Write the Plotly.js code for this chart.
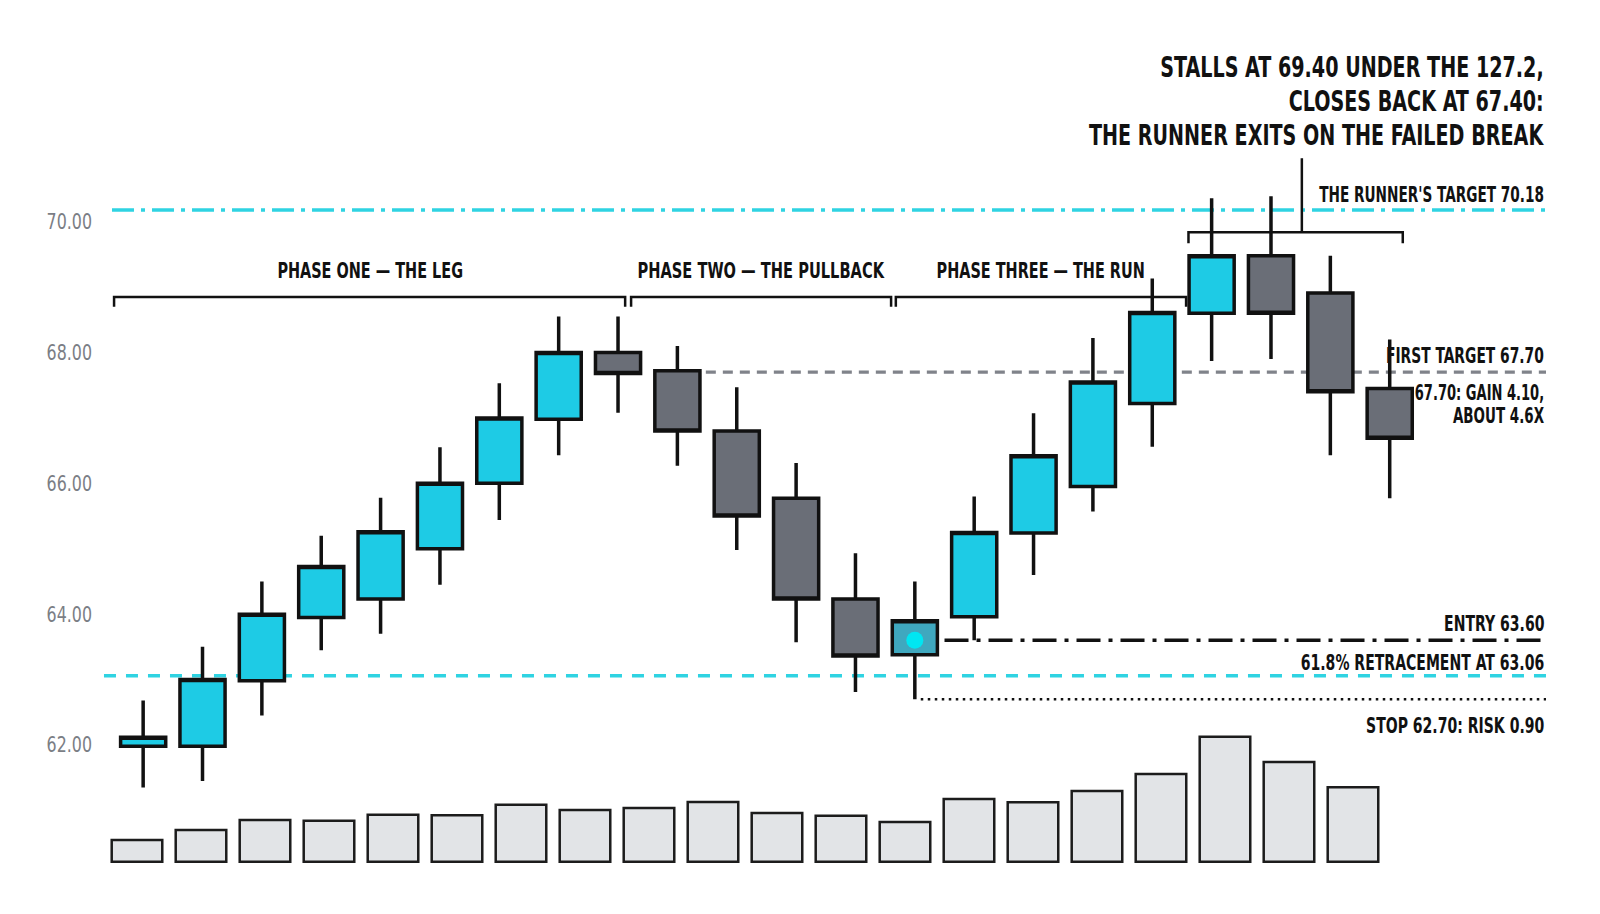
<!DOCTYPE html>
<html>
<head>
<meta charset="utf-8">
<script src="https://cdn.plot.ly/plotly-3.0.1.min.js"></script>
<style>
  html, body { margin: 0; padding: 0; background: #fff; }
  #chart { width: 1600px; height: 914px; }
</style>
</head>
<body>
<div id="chart"></div>
<script>
// Price candles, one per session (index 0..21)
const candleOpen  = [61.98, 61.98, 62.98, 63.95, 64.23, 65.00, 66.00, 66.98, 68.00, 67.72, 66.80,
                     65.77, 64.23, 63.38, 63.96, 65.24, 65.95, 67.22, 68.60, 69.48, 68.91, 67.45];
const candleHigh  = [62.68, 63.50, 64.50, 65.20, 65.78, 66.55, 67.53, 68.55, 68.55, 68.10, 67.47,
                     66.31, 64.93, 64.50, 65.80, 67.07, 68.22, 69.13, 70.36, 70.39, 69.48, 68.20];
const candleLow   = [61.35, 61.45, 62.45, 63.45, 63.70, 64.45, 65.44, 66.43, 67.08, 66.27, 64.98,
                     63.57, 62.81, 62.70, 63.60, 64.60, 65.57, 66.56, 67.87, 67.90, 66.43, 65.77];
const candleClose = [62.12, 63.00, 64.00, 64.73, 65.26, 66.00, 67.00, 68.00, 67.68, 66.80, 65.50,
                     64.23, 63.36, 63.90, 65.25, 66.42, 67.55, 68.61, 69.48, 68.60, 67.40, 66.69];

// Volume strip (thousands), its own 20 slots
const volume = [108, 158, 208, 205, 235, 232, 285, 258, 268, 298,
                243, 230, 198, 313, 297, 353, 438, 625, 498, 372];

const priceTicks = [62, 64, 66, 68, 70];

// Trade levels
const RUNNER_TARGET = 70.18;
const FIRST_TARGET  = 67.70;
const ENTRY         = 63.60;
const RETRACE_618   = 63.06;
const STOP          = 62.70;
const ENTRY_BAR     = 13;

const phases = [
  { label: 'PHASE ONE — THE LEG',      from: -0.49, to: 8.12 },
  { label: 'PHASE TWO — THE PULLBACK', from: 8.22,  to: 12.60 },
  { label: 'PHASE THREE — THE RUN',    from: 12.68, to: 17.57 }
];

// only DejaVu has a condensed cut here; it gets squeezed a bit more after drawing
const FONT = '"DejaVu Sans Condensed", "DejaVu Sans", sans-serif';
const INK = '#111111';
const CYAN = '#1ecbe5';
const CYAN_LINE = '#2fd3e2';
const SLATE = '#6a6e77';
const X_RANGE = [-0.727, 23.633];

const idx = candleOpen.map((_, i) => i);
const pick = (arr, keep) => arr.filter((_, i) => keep(i));
const notEntry = i => i !== ENTRY_BAR;
const isEntry = i => i === ENTRY_BAR;

function candles(keep, upFill) {
  return {
    type: 'candlestick',
    x: pick(idx, keep),
    open: pick(candleOpen, keep), high: pick(candleHigh, keep),
    low: pick(candleLow, keep), close: pick(candleClose, keep),
    increasing: { line: { color: INK, width: 3.5 }, fillcolor: upFill },
    decreasing: { line: { color: INK, width: 3.5 }, fillcolor: SLATE },
    whiskerwidth: 0, hoverinfo: 'skip', showlegend: false
  };
}

const data = [
  {
    type: 'bar', xaxis: 'x2', yaxis: 'y2',
    x: volume.map((_, i) => i), y: volume,
    marker: { color: '#e2e4e7', line: { color: '#1c1c1c', width: 2.5 } },
    hoverinfo: 'skip'
  },
  candles(notEntry, CYAN),
  candles(isEntry, '#3fa8bf'),
  {
    type: 'scatter', mode: 'markers', x: [ENTRY_BAR], y: [ENTRY],
    marker: { size: 17, color: '#00e6f2' }, hoverinfo: 'skip'
  }
];

function level(y, x0, color, width, dash) {
  return { type: 'line', xref: 'x', yref: 'y', x0: x0, x1: X_RANGE[1], y0: y, y1: y,
           line: { color: color, width: width, dash: dash }, layer: 'below' };
}

function bracket(a, b, top, foot) {
  return { type: 'path', xref: 'x', yref: 'y',
           path: `M ${a},${foot} V ${top} H ${b} V ${foot}`,
           line: { color: INK, width: 2.5 } };
}

const shapes = [
  level(RUNNER_TARGET, -0.525, CYAN_LINE, 3.5, '22px,7px,4px,7px'),
  level(RETRACE_618, -0.66, CYAN_LINE, 3.5, '12px,10px'),
  level(FIRST_TARGET, 8.62, '#80838a', 3.2, '10px,7px'),
  level(ENTRY, 13.5, INK, 3.5, '24px,8px,4px,8px'),
  level(STOP, 13.1, INK, 2.5, '2.5px,4.5px'),
  ...phases.map(p => bracket(p.from, p.to, 68.85, 68.70)),
  bracket(17.61, 21.22, 69.84, 69.67),
  { type: 'line', xref: 'x', yref: 'y', x0: 19.52, x1: 19.52, y0: 69.84, y1: 70.97,
    line: { color: INK, width: 2.5 } }
];

const label = size => ({ family: FONT, size: size, color: INK, weight: 700 });

function sideNote(text, y, shift) {
  return { xref: 'paper', yref: 'y', x: 1, y: y, yshift: shift, text: text,
           xanchor: 'right', yanchor: 'middle', align: 'right', showarrow: false,
           font: label(22) };
}

function headline(text, py) {
  return { xref: 'paper', yref: 'paper', x: 1, y: 1 - py / 914, text: text,
           xanchor: 'right', yanchor: 'middle', align: 'right', showarrow: false,
           font: label(28) };
}

const annotations = [
  headline('STALLS AT 69.40 UNDER THE 127.2,', 68),
  headline('CLOSES BACK AT 67.40:', 101.7),
  headline('THE RUNNER EXITS ON THE FAILED BREAK', 135),
  ...phases.map(p => ({ xref: 'x', yref: 'y', x: (p.from + p.to) / 2, y: 69.25, text: p.label,
                        showarrow: false, xanchor: 'center', yanchor: 'middle', font: label(22) })),
  sideNote("THE RUNNER'S TARGET 70.18", RUNNER_TARGET, 15),
  sideNote('FIRST TARGET 67.70', FIRST_TARGET, 17),
  sideNote('67.70: GAIN 4.10,', FIRST_TARGET, -20),
  sideNote('ABOUT 4.6X', FIRST_TARGET, -43),
  sideNote('ENTRY 63.60', ENTRY, 17),
  sideNote('61.8% RETRACEMENT AT 63.06', RETRACE_618, 13),
  sideNote('STOP 62.70: RISK 0.90', STOP, -26)
];
// horizontal narrowing per annotation, same order as above
const squeezeBy = [0.76, 0.76, 0.76, 0.73, 0.74, 0.73, 0.69, 0.70, 0.66, 0.68, 0.71, 0.71, 0.71];

const layout = {
  width: 1600, height: 914,
  margin: { l: 100, r: 54, t: 0, b: 0 },
  paper_bgcolor: '#ffffff', plot_bgcolor: '#ffffff',
  showlegend: false,
  boxgap: 0.24, boxgroupgap: 0, bargap: 0.21,
  xaxis: { range: X_RANGE, visible: false, rangeslider: { visible: false } },
  xaxis2: { range: [-0.578, 22.016], overlaying: 'x', anchor: 'y2', visible: false },
  yaxis: {
    range: [59.416, 73.389], tickvals: priceTicks, tickformat: '.2f',
    showgrid: false, zeroline: false, showline: false, ticks: '', ticklabelstandoff: 7,
    tickfont: { family: FONT, size: 21, color: '#7b7e85' }
  },
  yaxis2: { range: [-261.5, 4308.5], overlaying: 'y', anchor: 'x2', visible: false },
  shapes: shapes,
  annotations: annotations
};

// narrow an svg text horizontally, keeping its anchored edge in place
function squeeze(el, s, anchor) {
  const b = el.getBBox();
  const ox = anchor === 'end' ? b.x + b.width : anchor === 'start' ? b.x : b.x + b.width / 2;
  const prev = el.getAttribute('transform') || '';
  el.setAttribute('transform', `${prev} translate(${ox * (1 - s)},0) scale(${s},1)`);
}

Plotly.newPlot('chart', data, layout, { staticPlot: true, displayModeBar: false }).then(gd => {
  gd.querySelectorAll('g.annotation').forEach(g => {
    const t = g.querySelector('text.annotation-text');
    const i = +g.getAttribute('data-index');
    if (t && squeezeBy[i]) squeeze(t, squeezeBy[i], t.getAttribute('text-anchor'));
  });
  const yl = gd.querySelector('g.yaxislayer-above');
  if (yl) squeeze(yl, 0.84, 'end');
});
</script>
</body>
</html>
